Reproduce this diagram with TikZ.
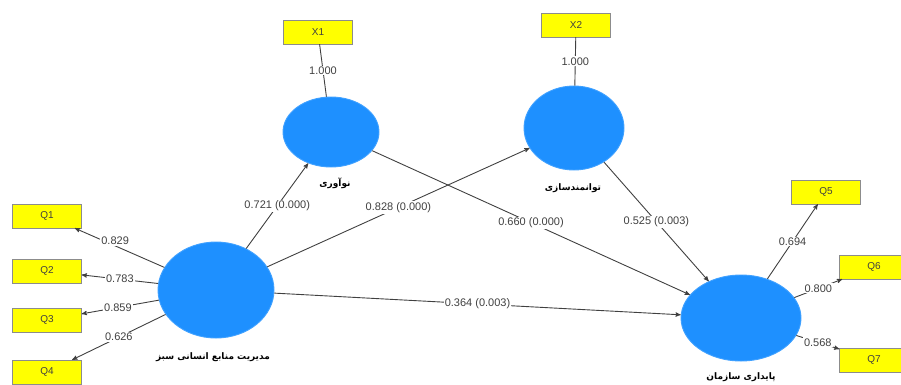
\documentclass[tikz,border=0pt]{standalone}
\usepackage{fontspec}
\setmainfont{Liberation Sans}
\newfontfamily\farsi[Script=Arabic]{DejaVu Sans}
\TeXXeTstate=1
\usetikzlibrary{arrows,shapes.geometric}

\definecolor{plsblue}{RGB}{30,144,255}
\definecolor{itemyellow}{RGB}{255,255,0}

\begin{document}
\begin{tikzpicture}[x=1pt,y=-1pt,->,>=stealth',line width=0.9pt,color=black!75]
  \tikzstyle{latent}=[ellipse,fill=plsblue,draw=plsblue!85!white,inner sep=0pt]
  \tikzstyle{indicator}=[rectangle,fill=itemyellow,draw=black!45,thin,minimum width=69pt,
                    minimum height=24pt,font=\fontsize{10}{11}\selectfont]
  \tikzstyle{coef}=[fill=white,inner sep=1pt,font=\fontsize{11}{12}\selectfont]
  \tikzstyle{conlabel}=[text=black,font=\farsi\bfseries\fontsize{9}{10}\selectfont]

  \useasboundingbox (0,0) rectangle (901,384);
  \clip (0,0) rectangle (901,384);

  \node[latent,minimum width=116pt,minimum height=96pt] (hrm) at (216,290) {};
  \node[latent,minimum width=96pt,minimum height=70pt]  (nov) at (331,132) {};
  \node[latent,minimum width=100pt,minimum height=84pt] (tav) at (574,128) {};
  \node[latent,minimum width=120pt,minimum height=86pt] (sus) at (741,318) {};

  \node[conlabel] (hrmlbl) at (213,357) {\beginR مدیریت منابع انسانی سبز\endR};
  \node[conlabel] (novlbl) at (335,183) {\beginR نوآوری\endR};
  \node[conlabel] (tavlbl) at (573,188) {\beginR توانمندسازی\endR};
  \node[conlabel] (suslbl) at (741,377) {\beginR پایداری سازمان\endR};

  \node[indicator] (x1) at (318,32) {X1};
  \node[indicator] (x2) at (576,25) {X2};
  \node[indicator] (q1) at (47,216) {Q1};
  \node[indicator] (q2) at (47,271) {Q2};
  \node[indicator] (q3) at (47,320) {Q3};
  \node[indicator] (q4) at (47,372) {Q4};
  \node[indicator] (q5) at (826,192) {Q5};
  \node[indicator] (q6) at (874,267) {Q6};
  \node[indicator] (q7) at (874,360) {Q7};

  \path (nov) edge [-]  node[coef] {1.000} (x1)
        (tav) edge [-]  node[coef] {1.000} (x2)
        (hrm) edge      node[coef,pos=0.55,yshift=5pt] {0.829} (q1)
        (hrm) edge      node[coef,pos=0.5] {0.783} (q2)
        (hrm) edge      node[coef,pos=0.53] {0.859} (q3)
        (hrm) edge      node[coef,pos=0.5] {0.626} (q4)
        (sus) edge      node[coef,pos=0.5] {0.694} (q5)
        (sus) edge      node[coef,pos=0.5] {0.800} (q6)
        (sus) edge      node[coef,pos=0.5] {0.568} (q7)
        (hrm) edge      node[coef] {0.721 (0.000)} (nov)
        (hrm) edge      node[coef] {0.828 (0.000)} (tav)
        (nov) edge      node[coef] {0.660 (0.000)} (sus)
        (tav) edge      node[coef] {0.525 (0.003)} (sus)
        (hrm) edge      node[coef] {0.364 (0.003)} (sus);
\end{tikzpicture}
\end{document}
